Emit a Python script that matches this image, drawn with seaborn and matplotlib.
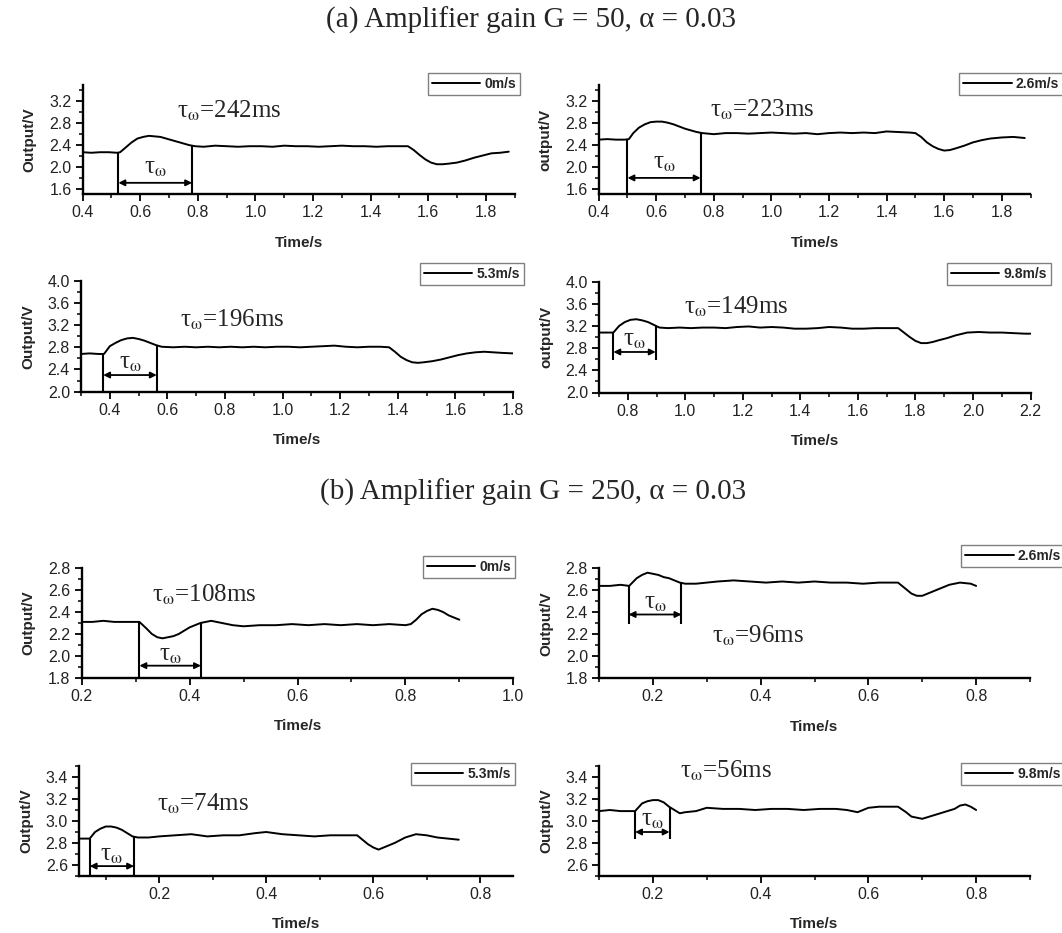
import numpy as np
import matplotlib.pyplot as plt
import seaborn as sns
from matplotlib.ticker import MultipleLocator, FormatStrFormatter

# ---- Figure size (pixels at 100 dpi) ----
FIG_W, FIG_H = 1062, 933

# ---- Curves ----
# (a) G = 50
SPEED_A = ["0m/s", "2.6m/s", "5.3m/s", "9.8m/s"]
TAU_A = [242, 223, 196, 149]

T_A0 = [0.40, 0.43, 0.46, 0.49, 0.52, 0.53, 0.55, 0.57, 0.59, 0.61, 0.63, 0.65, 0.67,
        0.69, 0.71, 0.73, 0.75, 0.77, 0.79, 0.82, 0.86, 0.90, 0.94, 0.98, 1.02, 1.06,
        1.10, 1.14, 1.18, 1.22, 1.26, 1.30, 1.34, 1.38, 1.42, 1.46, 1.50, 1.53, 1.55,
        1.57, 1.59, 1.61, 1.63, 1.65, 1.67, 1.70, 1.73, 1.76, 1.79, 1.82, 1.85, 1.88]
V_A0 = [2.27, 2.26, 2.27, 2.27, 2.26, 2.27, 2.36, 2.45, 2.52, 2.55, 2.57, 2.56, 2.55,
        2.52, 2.49, 2.46, 2.43, 2.40, 2.38, 2.37, 2.39, 2.38, 2.37, 2.38, 2.38, 2.37,
        2.39, 2.38, 2.38, 2.37, 2.38, 2.39, 2.38, 2.38, 2.37, 2.38, 2.38, 2.38, 2.31,
        2.22, 2.14, 2.08, 2.05, 2.05, 2.06, 2.08, 2.12, 2.17, 2.21, 2.25, 2.26, 2.28]

T_A1 = [0.40, 0.43, 0.46, 0.49, 0.505, 0.52, 0.54, 0.56, 0.58, 0.60, 0.62, 0.64, 0.66,
        0.68, 0.70, 0.72, 0.74, 0.76, 0.80, 0.84, 0.88, 0.92, 0.96, 1.00, 1.04, 1.08,
        1.12, 1.16, 1.20, 1.24, 1.28, 1.32, 1.36, 1.40, 1.44, 1.48, 1.50, 1.52, 1.54,
        1.56, 1.58, 1.60, 1.62, 1.64, 1.67, 1.70, 1.73, 1.76, 1.80, 1.84, 1.88]
V_A1 = [2.50, 2.51, 2.50, 2.50, 2.51, 2.62, 2.72, 2.78, 2.82, 2.83, 2.83, 2.81, 2.78,
        2.74, 2.70, 2.67, 2.64, 2.62, 2.60, 2.62, 2.62, 2.61, 2.62, 2.63, 2.62, 2.61,
        2.62, 2.60, 2.62, 2.63, 2.62, 2.63, 2.62, 2.65, 2.64, 2.63, 2.62, 2.55, 2.45,
        2.38, 2.33, 2.30, 2.31, 2.34, 2.39, 2.45, 2.49, 2.52, 2.54, 2.55, 2.53]

T_A2 = [0.30, 0.33, 0.36, 0.38, 0.40, 0.42, 0.44, 0.46, 0.48, 0.50, 0.52, 0.54, 0.56,
        0.58, 0.62, 0.66, 0.70, 0.74, 0.78, 0.82, 0.86, 0.90, 0.94, 0.98, 1.02, 1.06,
        1.10, 1.14, 1.18, 1.22, 1.26, 1.30, 1.34, 1.37, 1.39, 1.41, 1.43, 1.45, 1.47,
        1.49, 1.52, 1.55, 1.58, 1.61, 1.64, 1.67, 1.70, 1.73, 1.76, 1.80]
V_A2 = [2.68, 2.69, 2.68, 2.68, 2.82, 2.88, 2.93, 2.96, 2.97, 2.95, 2.92, 2.88, 2.84,
        2.81, 2.80, 2.81, 2.80, 2.81, 2.80, 2.81, 2.80, 2.81, 2.80, 2.81, 2.81, 2.80,
        2.81, 2.82, 2.83, 2.81, 2.80, 2.81, 2.81, 2.80, 2.72, 2.63, 2.57, 2.53, 2.52,
        2.53, 2.55, 2.58, 2.62, 2.66, 2.69, 2.71, 2.72, 2.71, 2.70, 2.69]

T_A3 = [0.70, 0.73, 0.75, 0.77, 0.79, 0.81, 0.83, 0.85, 0.87, 0.89, 0.91, 0.94, 0.98,
        1.02, 1.06, 1.10, 1.14, 1.18, 1.22, 1.26, 1.30, 1.34, 1.38, 1.42, 1.46, 1.50,
        1.54, 1.58, 1.62, 1.66, 1.70, 1.74, 1.76, 1.78, 1.80, 1.82, 1.84, 1.86, 1.88,
        1.91, 1.94, 1.98, 2.02, 2.06, 2.10, 2.14, 2.18, 2.20]
V_A3 = [3.08, 3.08, 3.08, 3.20, 3.27, 3.31, 3.32, 3.30, 3.27, 3.22, 3.17, 3.16, 3.17,
        3.16, 3.17, 3.17, 3.16, 3.18, 3.19, 3.17, 3.18, 3.17, 3.15, 3.15, 3.16, 3.18,
        3.17, 3.15, 3.15, 3.16, 3.16, 3.16, 3.08, 3.00, 2.93, 2.89, 2.89, 2.91, 2.94,
        2.98, 3.03, 3.08, 3.09, 3.08, 3.08, 3.07, 3.06, 3.06]

# (b) G = 250
SPEED_B = ["0m/s", "2.6m/s", "5.3m/s", "9.8m/s"]
TAU_B = [108, 96, 74, 56]

T_B0 = [0.20, 0.22, 0.24, 0.26, 0.28, 0.30, 0.307, 0.32, 0.33, 0.34, 0.35, 0.36, 0.37,
        0.38, 0.39, 0.40, 0.41, 0.42, 0.43, 0.44, 0.45, 0.46, 0.48, 0.50, 0.53, 0.56,
        0.59, 0.62, 0.65, 0.68, 0.71, 0.74, 0.77, 0.80, 0.81, 0.82, 0.83, 0.84, 0.85,
        0.86, 0.87, 0.88, 0.89, 0.90]
V_B0 = [2.31, 2.31, 2.32, 2.31, 2.31, 2.31, 2.31, 2.25, 2.20, 2.17, 2.16, 2.17, 2.18,
        2.20, 2.23, 2.26, 2.28, 2.30, 2.31, 2.32, 2.31, 2.30, 2.28, 2.27, 2.28, 2.28,
        2.29, 2.28, 2.29, 2.28, 2.29, 2.28, 2.29, 2.28, 2.29, 2.33, 2.38, 2.41, 2.43,
        2.42, 2.40, 2.37, 2.35, 2.33]

T_B1 = [0.10, 0.12, 0.14, 0.156, 0.17, 0.18, 0.19, 0.20, 0.21, 0.22, 0.23, 0.24, 0.25,
        0.26, 0.28, 0.30, 0.32, 0.35, 0.38, 0.41, 0.44, 0.47, 0.50, 0.53, 0.56, 0.59,
        0.62, 0.655, 0.67, 0.68, 0.69, 0.70, 0.71, 0.73, 0.75, 0.77, 0.79, 0.80]
V_B1 = [2.64, 2.64, 2.65, 2.64, 2.71, 2.74, 2.76, 2.75, 2.74, 2.72, 2.71, 2.69, 2.67,
        2.66, 2.66, 2.67, 2.68, 2.69, 2.68, 2.67, 2.68, 2.67, 2.68, 2.67, 2.67, 2.66,
        2.67, 2.67, 2.61, 2.57, 2.55, 2.55, 2.57, 2.61, 2.65, 2.67, 2.66, 2.64]

T_B2 = [0.05, 0.06, 0.07, 0.08, 0.09, 0.10, 0.11, 0.12, 0.13, 0.14, 0.15, 0.16, 0.18,
        0.20, 0.23, 0.26, 0.29, 0.32, 0.35, 0.38, 0.40, 0.43, 0.46, 0.49, 0.52, 0.55,
        0.57, 0.58, 0.59, 0.60, 0.61, 0.62, 0.64, 0.66, 0.68, 0.70, 0.72, 0.74, 0.76]
V_B2 = [2.84, 2.84, 2.84, 2.90, 2.93, 2.95, 2.95, 2.94, 2.92, 2.89, 2.86, 2.85, 2.85,
        2.86, 2.87, 2.88, 2.86, 2.87, 2.87, 2.89, 2.90, 2.88, 2.87, 2.86, 2.87, 2.87,
        2.87, 2.83, 2.79, 2.76, 2.74, 2.76, 2.80, 2.85, 2.88, 2.87, 2.85, 2.84, 2.83]

T_B3 = [0.10, 0.12, 0.14, 0.16, 0.167, 0.18, 0.19, 0.20, 0.21, 0.22, 0.23, 0.24, 0.25,
        0.26, 0.28, 0.30, 0.33, 0.36, 0.39, 0.42, 0.45, 0.48, 0.51, 0.54, 0.56, 0.58,
        0.60, 0.62, 0.64, 0.655, 0.67, 0.68, 0.69, 0.70, 0.72, 0.74, 0.76, 0.77, 0.78,
        0.79, 0.80]
V_B3 = [3.09, 3.10, 3.09, 3.09, 3.09, 3.16, 3.18, 3.19, 3.19, 3.17, 3.13, 3.10, 3.07,
        3.08, 3.09, 3.12, 3.11, 3.11, 3.10, 3.11, 3.11, 3.10, 3.11, 3.11, 3.10, 3.08,
        3.12, 3.13, 3.13, 3.13, 3.08, 3.04, 3.03, 3.02, 3.05, 3.08, 3.11, 3.14, 3.15,
        3.13, 3.10]

# start / end of the marked response interval
TAU_START = [0.524, 0.50, 0.377, 0.75, 0.307, 0.155, 0.070, 0.167]
TAU_END = [0.78, 0.754, 0.563, 0.897, 0.421, 0.253, 0.153, 0.231]

SERIF = ["Liberation Serif", "DejaVu Serif"]


def px_rect(left, right, top, bottom):
    """Pixel box -> figure fraction rect."""
    return [left / FIG_W, 1 - bottom / FIG_H, (right - left) / FIG_W, (bottom - top) / FIG_H]


# ---- Layout of each panel (positions only, no data) ----
LAYOUT = [
    # rect, xlim, ylim, xstep, ystep, ylabel, legend (right, top px), note (x, y), bracket (low, arrow, label)
    dict(rect=px_rect(82.7, 514.5, 85, 194.3), xlim=(0.4, 1.9), ylim=(1.5, 3.5), xs=0.2, ys=0.4,
         ylabel="Output/V", leg=(520, 73), note=(0.907, 3.02), br=(1.5, 1.71, 1.98)),
    dict(rect=px_rect(598.7, 1030.5, 85, 194.3), xlim=(0.4, 1.9), ylim=(1.5, 3.5), xs=0.2, ys=0.4,
         ylabel="output/V", leg=(1063, 73), note=(0.966, 3.05), br=(1.5, 1.80, 2.07)),
    dict(rect=px_rect(81, 513, 280.7, 391.7), xlim=(0.3, 1.8), ylim=(2.0, 4.0), xs=0.2, ys=0.4,
         ylabel="Output/V", leg=(524, 263), note=(0.826, 3.29), br=(2.0, 2.30, 2.51)),
    dict(rect=px_rect(599, 1030.5, 281.5, 392.5), xlim=(0.7, 2.2), ylim=(2.0, 4.0), xs=0.2, ys=0.4,
         ylabel="output/V", leg=(1051, 263), note=(1.175, 3.55), br=(2.59, 2.73, 2.95)),
    dict(rect=px_rect(81.7, 513.3, 568.3, 677.7), xlim=(0.2, 1.0), ylim=(1.8, 2.8), xs=0.2, ys=0.2,
         ylabel="Output/V", leg=(515, 556), note=(0.427, 2.56), br=(1.8, 1.91, 2.01)),
    dict(rect=px_rect(599, 1030, 568.3, 678.3), xlim=(0.1, 0.9), ylim=(1.8, 2.8), xs=0.2, ys=0.2,
         ylabel="Output/V", leg=(1065, 545), note=(0.394, 2.19), br=(2.29, 2.38, 2.48)),
    dict(rect=px_rect(79, 513.3, 766, 876), xlim=(0.05, 0.862), ylim=(2.5, 3.5), xs=0.2, ys=0.2,
         ylabel="Output/V", leg=(515, 763), note=(0.281, 3.16), br=(2.5, 2.59, 2.69)),
    dict(rect=px_rect(599, 1030, 766, 876), xlim=(0.1, 0.9), ylim=(2.5, 3.5), xs=0.2, ys=0.2,
         ylabel="Output/V", leg=(1065, 763), note=(0.336, 3.46), br=(2.84, 2.90, 3.01)),
]

TAU_SYM = r"τ$_{\mathrm{\omega}}$"


def draw_panel(fig, lay, t, v, speed, tau, t0, t1):
    ax = fig.add_axes(lay["rect"])
    sns.lineplot(x=t, y=v, ax=ax, color="black", linewidth=1.4, label=speed,
                 sort=False, estimator=None)

    ax.set_xlim(*lay["xlim"])
    ax.set_ylim(*lay["ylim"])
    ax.xaxis.set_major_locator(MultipleLocator(lay["xs"]))
    ax.xaxis.set_minor_locator(MultipleLocator(lay["xs"] / 2))
    ax.yaxis.set_major_locator(MultipleLocator(lay["ys"]))
    ax.yaxis.set_minor_locator(MultipleLocator(lay["ys"] / 2))
    ax.xaxis.set_major_formatter(FormatStrFormatter("%.1f"))
    ax.yaxis.set_major_formatter(FormatStrFormatter("%.1f"))
    ax.tick_params(which="major", direction="out", length=5, width=1.3,
                   labelsize=11.5, pad=3, color="black", labelcolor="#222222")
    ax.tick_params(which="minor", direction="out", length=3, width=1.1, color="black")
    sns.despine(ax=ax)
    for side in ("left", "bottom"):
        ax.spines[side].set_linewidth(1.7)
        ax.spines[side].set_color("black")

    ax.set_xlabel("Time/s", fontsize=11, fontweight="bold", labelpad=11)
    ax.set_ylabel(lay["ylabel"], fontsize=11, fontweight="bold", labelpad=9)

    # legend box, top right (frame may touch the figure edge on the right column)
    lx, ly = lay["leg"]
    ax.legend(loc="upper right", bbox_to_anchor=(lx / FIG_W, 1 - ly / FIG_H),
              bbox_transform=fig.transFigure, prop=dict(weight="bold", size=10),
              handlelength=3.5, handletextpad=0.3, borderpad=0.28, borderaxespad=0,
              frameon=True, fancybox=False, edgecolor="#808080", framealpha=1)

    # response time bracket
    low, arrow_y, lab_y = lay["br"]
    for x in (t0, t1):
        ax.vlines(x, low, np.interp(x, t, v), color="black", linewidth=1.5, clip_on=False)
    ax.annotate("", xy=(t1, arrow_y), xytext=(t0, arrow_y),
                arrowprops=dict(arrowstyle="<|-|>", color="black", lw=1.3,
                                mutation_scale=9, shrinkA=0, shrinkB=0))
    ax.text((t0 + t1) / 2, lab_y, TAU_SYM, family=SERIF, fontsize=18,
            ha="center", va="center")

    nx, ny = lay["note"]
    ax.text(nx, ny, TAU_SYM + "=%dms" % tau, family=SERIF, fontsize=18,
            ha="center", va="center")
    return ax


def main():
    sns.set_theme(style="ticks")
    plt.rcParams["font.family"] = ["Liberation Sans", "DejaVu Sans"]
    plt.rcParams["mathtext.fontset"] = "stix"

    fig = plt.figure(figsize=(FIG_W / 100, FIG_H / 100), dpi=100)

    curves = [(T_A0, V_A0), (T_A1, V_A1), (T_A2, V_A2), (T_A3, V_A3),
              (T_B0, V_B0), (T_B1, V_B1), (T_B2, V_B2), (T_B3, V_B3)]
    speeds = SPEED_A + SPEED_B
    taus = TAU_A + TAU_B

    for i, lay in enumerate(LAYOUT):
        t, v = curves[i]
        draw_panel(fig, lay, t, v, speeds[i], taus[i], TAU_START[i], TAU_END[i])

    fig.text(531 / FIG_W, 1 - 20 / FIG_H, "(a) Amplifier gain G = 50, α = 0.03",
             family=SERIF, fontsize=21, ha="center", va="center")
    fig.text(533 / FIG_W, 1 - 492 / FIG_H, "(b) Amplifier gain G = 250, α = 0.03",
             family=SERIF, fontsize=21, ha="center", va="center")

    fig.savefig("out.png", dpi=100)
    plt.close(fig)


if __name__ == "__main__":
    main()
